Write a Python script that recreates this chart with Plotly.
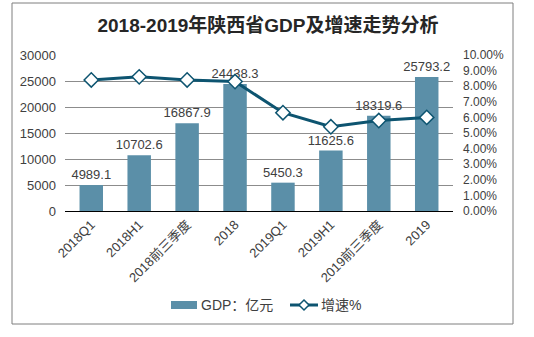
import plotly.graph_objects as go

categories = ["2018Q1", "2018H1", "2018前三季度", "2018", "2019Q1", "2019H1", "2019前三季度", "2019"]
gdp = [4989.1, 10702.6, 16867.9, 24438.3, 5450.3, 11625.6, 18319.6, 25793.2]
growth = [0.084, 0.086, 0.084, 0.083, 0.063, 0.054, 0.058, 0.060]
title = "2018-2019年陕西省GDP及增速走势分析"
bar_name = "GDP：亿元"
line_name = "增速%"

W, H = 534, 337
L, R, T, B = 65, 453, 55, 211  # plot area pixel bounds
pw, ph = R - L, B - T

def px_x(x):
    return (x - L) / pw

def px_y(y):
    return (B - y) / ph

FONT = "Liberation Sans, Arial, Noto Sans CJK SC, sans-serif"
TXT = "#404040"
BAR_C = "#5B8FA8"
LINE_C = "#0D5470"

fig = go.Figure()
fig.add_trace(go.Bar(
    x=categories, y=gdp, name=bar_name,
    marker=dict(color=BAR_C, line=dict(width=0)),
    width=0.49,
    text=[f"{v:.1f}" for v in gdp], textposition="outside",
    textangle=0, constraintext="none",
    textfont=dict(size=13, color=TXT, family=FONT),
    cliponaxis=False, showlegend=False,
))
fig.add_trace(go.Scatter(
    x=categories, y=growth, name=line_name, yaxis="y2",
    mode="lines+markers",
    line=dict(color=LINE_C, width=3),
    marker=dict(symbol="diamond", size=11, color="white",
                line=dict(color=LINE_C, width=1.5)),
    cliponaxis=False, showlegend=False,
))

# manual legend (pixel positions)
ly = 305
shapes = [
    dict(type="rect", xref="paper", yref="paper",
         x0=px_x(12), x1=px_x(513), y0=px_y(324), y1=px_y(3),
         line=dict(color="#7f7f7f", width=1), layer="below"),
    dict(type="rect", xref="paper", yref="paper",
         x0=px_x(171), x1=px_x(197), y0=px_y(309), y1=px_y(301),
         fillcolor=BAR_C, line=dict(width=0)),
    dict(type="line", xref="paper", yref="paper",
         x0=px_x(290), x1=px_x(318), y0=px_y(ly), y1=px_y(ly),
         line=dict(color=LINE_C, width=3)),
    dict(type="path", xref="paper", yref="paper",
         path=(f"M {px_x(304)},{px_y(ly-5)} L {px_x(309)},{px_y(ly)} "
               f"L {px_x(304)},{px_y(ly+5)} L {px_x(299)},{px_y(ly)} Z"),
         fillcolor="white", line=dict(color=LINE_C, width=1.5)),
]
annotations = [
    dict(text=bar_name, xref="paper", yref="paper", x=px_x(199), y=px_y(ly),
         xanchor="left", yanchor="middle", showarrow=False,
         font=dict(size=14, color=TXT, family=FONT)),
    dict(text=line_name, xref="paper", yref="paper", x=px_x(319), y=px_y(ly),
         xanchor="left", yanchor="middle", showarrow=False,
         font=dict(size=14, color=TXT, family=FONT)),
]

fig.update_layout(
    width=W, height=H,
    margin=dict(l=L, r=W - R, t=T, b=H - B, pad=0),
    paper_bgcolor="white", plot_bgcolor="white",
    font=dict(family=FONT, size=12, color=TXT),
    showlegend=False,
    title=dict(text=f"<b>{title}</b>", x=268 / W, xanchor="center",
               y=1 - 25 / H, yanchor="middle",
               font=dict(size=19, color="#262626", family=FONT)),
    xaxis=dict(tickangle=-45, showgrid=False, showline=True, linecolor="#000000",
               linewidth=1, ticks="", tickfont=dict(size=13, color=TXT)),
    yaxis=dict(range=[0, 30000], dtick=5000, tickformat="d", showgrid=True,
               gridcolor="#8c8c8c", gridwidth=1, zeroline=False, showline=False,
               ticks="", tickfont=dict(size=13, color=TXT), ticklabelstandoff=8),
    yaxis2=dict(range=[0, 0.10], dtick=0.01, tickformat=".2%", overlaying="y",
                side="right", showgrid=False, zeroline=False, showline=False,
                ticks="", tickfont=dict(size=12, color=TXT), ticklabelstandoff=9),
    shapes=shapes,
    annotations=annotations,
)

fig.write_html("out.html")
